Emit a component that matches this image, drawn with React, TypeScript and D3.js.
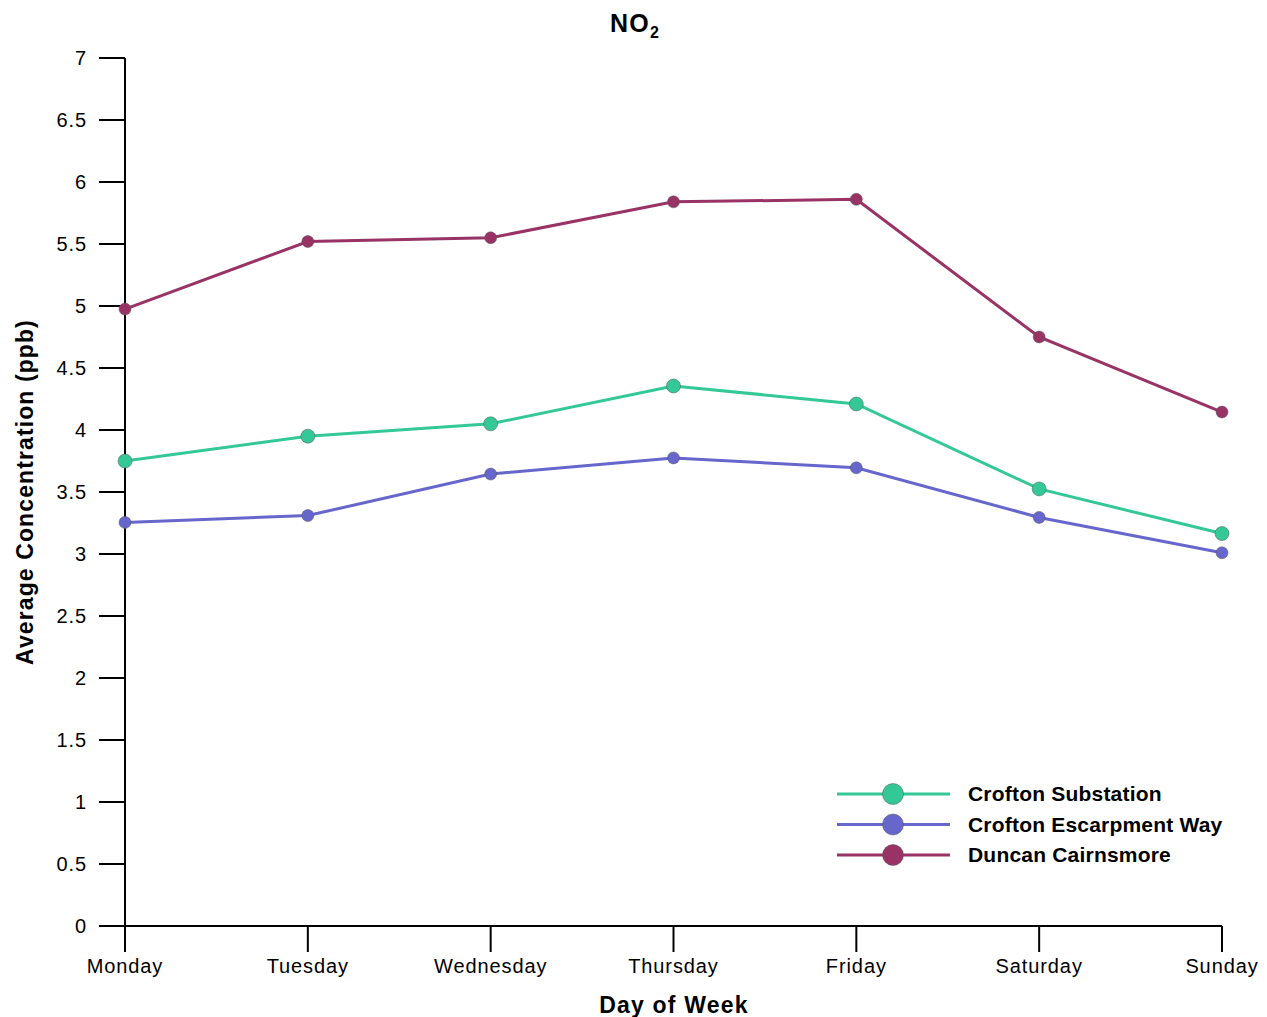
import React from "react";
import * as d3 from "d3";

const days = ["Monday", "Tuesday", "Wednesday", "Thursday", "Friday", "Saturday", "Sunday"];
const croftonSubstation = [3.75, 3.95, 4.05, 4.355, 4.21, 3.525, 3.165];
const croftonEscarpment = [3.255, 3.31, 3.645, 3.775, 3.695, 3.295, 3.01];
const duncanCairnsmore = [4.975, 5.52, 5.55, 5.84, 5.86, 4.75, 4.145];
const yTicks = [0, 0.5, 1, 1.5, 2, 2.5, 3, 3.5, 4, 4.5, 5, 5.5, 6, 6.5, 7];
const seriesNames = ["Crofton Substation", "Crofton Escarpment Way", "Duncan Cairnsmore"];
const seriesColors = ["#33c896", "#6666cc", "#993366"];

const W = 1267, H = 1017;
const FONT = "'Liberation Sans', Arial, sans-serif";

export default function App() {
  const x = d3.scalePoint<string>().domain(days).range([125, 1222]);
  const y = d3.scaleLinear().domain([0, 7]).range([926, 58]);
  const series = [croftonSubstation, croftonEscarpment, duncanCairnsmore];
  const radii = [7, 6, 6];
  const line = d3.line<number>().x((_, i) => x(days[i])!).y((d) => y(d));

  return (
    <svg width={W} height={H} style={{ position: "absolute", left: 0, top: 0, background: "#fff" }} fontFamily={FONT}>
      <rect width={W} height={H} fill="#fff" />
      {/* title */}
      <text x={635} y={32} textAnchor="middle" fontSize={25} fontWeight="bold" fill="#000" letterSpacing={1.2}>
        NO<tspan fontSize={16} dy={6}>2</tspan>
      </text>
      {/* y axis */}
      <line x1={125} x2={125} y1={58} y2={926} stroke="#000" strokeWidth={2} />
      {yTicks.map((t) => (
        <g key={t}>
          <line x1={99} x2={125} y1={y(t)} y2={y(t)} stroke="#000" strokeWidth={2} />
          <text x={87} y={y(t)} dy="0.35em" textAnchor="end" fontSize={20} letterSpacing={0.9} fill="#000">{t}</text>
        </g>
      ))}
      {/* x axis */}
      <line x1={99} x2={1222} y1={926} y2={926} stroke="#000" strokeWidth={2} />
      {days.map((d) => (
        <g key={d}>
          <line x1={x(d)} x2={x(d)} y1={926} y2={952} stroke="#000" strokeWidth={2} />
          <text x={x(d)} y={973} textAnchor="middle" fontSize={20} letterSpacing={0.9} fill="#000">{d}</text>
        </g>
      ))}
      <text x={674} y={1013} textAnchor="middle" fontSize={23} letterSpacing={1.2} fontWeight="bold" fill="#000">Day of Week</text>
      <text transform="translate(33,492) rotate(-90)" textAnchor="middle" fontSize={23} letterSpacing={1.1} fontWeight="bold" fill="#000">
        Average Concentration (ppb)
      </text>
      {/* series */}
      {series.map((s, si) => (
        <g key={si}>
          <path d={line(s)!} fill="none" stroke={seriesColors[si]} strokeWidth={3} />
          {s.map((v, i) => (
            <circle key={i} cx={x(days[i])} cy={y(v)} r={radii[si]} fill={seriesColors[si]} stroke="#555" strokeOpacity={0.5} strokeWidth={1} />
          ))}
        </g>
      ))}
      {/* legend */}
      {seriesNames.map((n, i) => {
        const ly = 794 + i * 30.5;
        return (
          <g key={n}>
            <line x1={837} x2={950} y1={ly} y2={ly} stroke={seriesColors[i]} strokeWidth={3} />
            <circle cx={893} cy={ly} r={10.5} fill={seriesColors[i]} stroke="#555" strokeOpacity={0.5} strokeWidth={1} />
            <text x={968} y={ly} dy="0.35em" fontSize={21} letterSpacing={0.2} fontWeight="bold" fill="#000">{n}</text>
          </g>
        );
      })}
    </svg>
  );
}
